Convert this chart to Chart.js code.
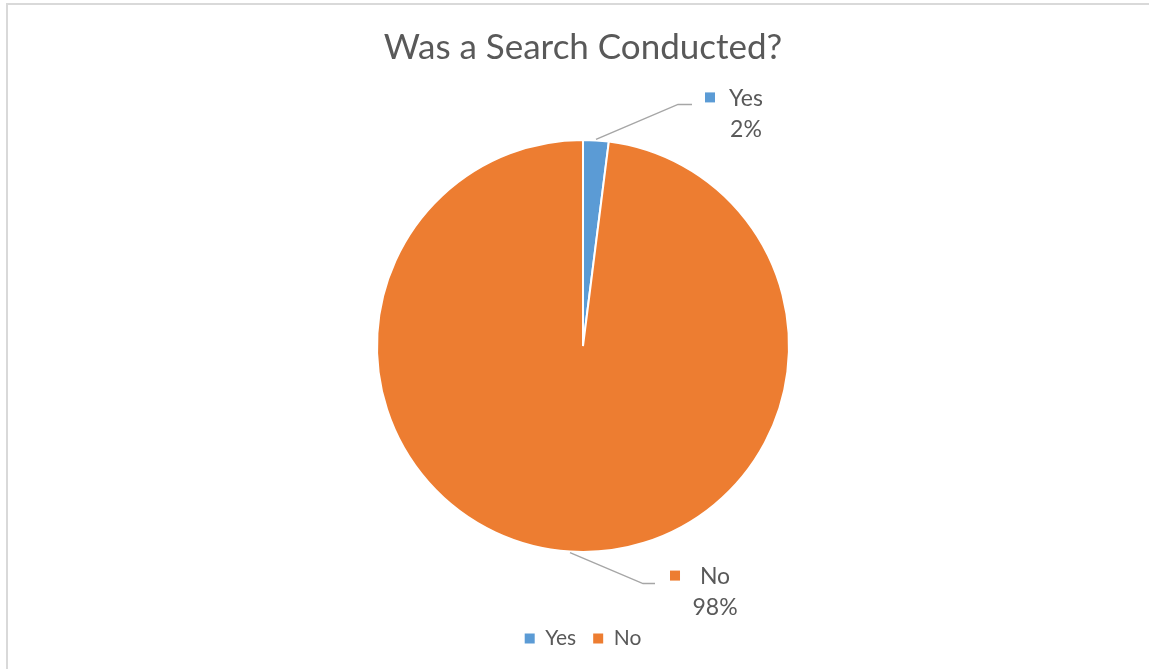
<!DOCTYPE html>
<html lang="en">
<head>
    <meta charset="UTF-8">
    <title>Was a Search Conducted?</title>
    <script src="https://cdn.jsdelivr.net/npm/chart.js"></script>
    <style>
        body {
            margin: 0;
            background: #fff;
        }
        #wrap {
            position: relative;
            width: 1149px;
            height: 669px;
            overflow: hidden;
        }
        #frame {
            position: absolute;
            left: 6px;
            top: 3px;
            width: 1200px;
            height: 700px;
            border-top: 2px solid #d9d9d9;
            border-left: 2px solid #d9d9d9;
            pointer-events: none;
        }
    </style>
</head>
<body>
<div id="wrap">
    <canvas id="pie" width="1149" height="669"></canvas>
    <div id="frame"></div>
</div>

<script>
    const labels = ['Yes', 'No'];
    const values = [2, 98];
    const colors = ['#5B9BD5', '#ED7D31'];

    const textColor = '#595959';
    const fontFamily = 'Lato, "Open Sans", sans-serif';

    // callout label per slice: elbow/end of leader line and text centre,
    // all relative to where the leader meets the slice edge
    const callouts = [
        { elbow: [82, -35], end: [96, -35], text: [150, -41], box: -36 },
        { elbow: [73, 31], end: [85, 31], text: [145, 24], box: -40 }
    ];

    const calloutPlugin = {
        id: 'callouts',
        afterDraw(chart) {
            const ctx = chart.ctx;
            const meta = chart.getDatasetMeta(0);
            const data = chart.data.datasets[0].data;
            const total = data.reduce((a, b) => a + b, 0);
            ctx.save();
            meta.data.forEach((arc, i) => {
                const c = callouts[i];
                const mid = (arc.startAngle + arc.endAngle) / 2;
                const px = arc.x + Math.cos(mid) * (arc.outerRadius + 1);
                const py = arc.y + Math.sin(mid) * (arc.outerRadius + 1);

                ctx.strokeStyle = '#a6a6a6';
                ctx.lineWidth = 1.5;
                ctx.beginPath();
                ctx.moveTo(px, py);
                ctx.lineTo(px + c.elbow[0], py + c.elbow[1]);
                ctx.lineTo(px + c.end[0], py + c.end[1]);
                ctx.stroke();

                const tx = px + c.text[0];
                const ty = py + c.text[1];
                ctx.fillStyle = colors[i];
                ctx.fillRect(tx + c.box - 5, ty - 6, 10, 10);

                ctx.fillStyle = textColor;
                ctx.font = '23px ' + fontFamily;
                ctx.textAlign = 'center';
                ctx.textBaseline = 'middle';
                ctx.fillText(chart.data.labels[i], tx, ty);
                ctx.fillText(Math.round(data[i] / total * 100) + '%', tx, ty + 31);
            });
            ctx.restore();
        }
    };

    new Chart(document.getElementById('pie'), {
        type: 'pie',
        data: {
            labels: labels,
            datasets: [{
                data: values,
                backgroundColor: colors,
                borderColor: '#ffffff',
                borderWidth: 2
            }]
        },
        options: {
            responsive: false,
            animation: false,
            layout: {
                padding: { top: 27, bottom: 10, left: 376, right: 359 }
            },
            plugins: {
                title: {
                    display: true,
                    text: 'Was a Search Conducted?',
                    color: textColor,
                    font: { family: fontFamily, size: 35, weight: 'normal' },
                    padding: { top: 0, bottom: 12 }
                },
                legend: {
                    position: 'bottom',
                    labels: {
                        color: textColor,
                        font: { family: fontFamily, size: 21 },
                        boxWidth: 10,
                        boxHeight: 10,
                        padding: 17,
                        generateLabels(chart) {
                            return Chart.overrides.pie.plugins.legend.labels.generateLabels(chart)
                                .map(item => Object.assign(item, { lineWidth: 0 }));
                        }
                    }
                },
                tooltip: { enabled: false }
            }
        },
        plugins: [calloutPlugin]
    });
</script>
</body>
</html>
